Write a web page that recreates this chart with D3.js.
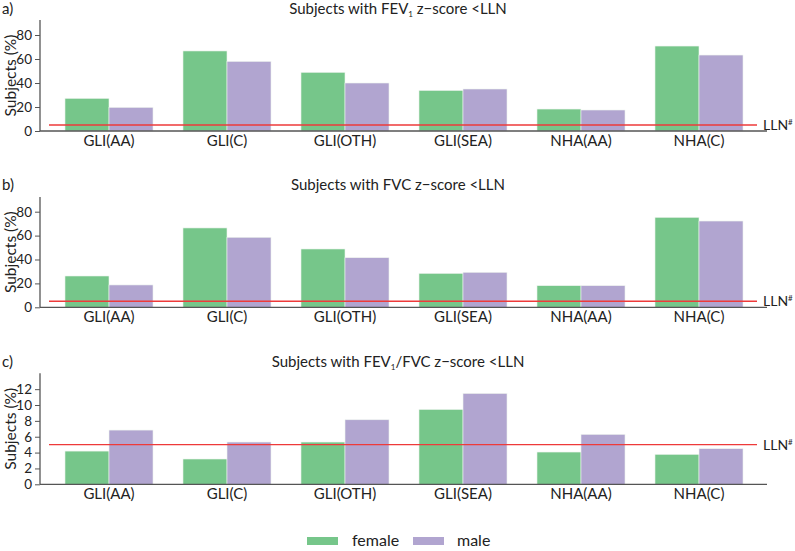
<!DOCTYPE html>
<html><head><meta charset="utf-8">
<script src="https://cdn.jsdelivr.net/npm/d3@7"></script>
<style>body{margin:0;background:#fff}svg{display:block}text{font-family:"Lato","Noto Sans",sans-serif;fill:#222}</style>
</head><body><svg id="c" width="795" height="551"></svg>
<script>
const categories = ["GLI(AA)","GLI(C)","GLI(OTH)","GLI(SEA)","NHA(AA)","NHA(C)"];
const seriesNames = ["female","male"];
const fev1Female = [27.2,66.7,48.9,33.8,18.3,70.8];
const fev1Male   = [19.7,58.0,40.0,35.0,17.5,63.3];
const fvcFemale  = [26.2,66.4,48.8,28.4,18.1,75.3];
const fvcMale    = [18.7,58.6,41.5,29.3,18.1,72.2];
const ratioFemale= [4.19,3.19,5.33,9.44,4.07,3.78];
const ratioMale  = [6.84,5.33,8.14,11.46,6.30,4.49];
const ticksAB = [0,20,40,60,80];
const ticksC = [0,2,4,6,8,10,12];
const llnValue = 5;
const colors = {female:"#76c68a", male:"#b1a5d0"};

const svg = d3.select("#c");
const panels = [
  {label:"a)", title:["Subjects with FEV","1"," z\u2212score <LLN"], f:fev1Female, m:fev1Male, max:92.5, ticks:ticksAB, top:20, base:131, titleY:14},
  {label:"b)", title:["Subjects with FVC z\u2212score <LLN"], f:fvcFemale, m:fvcMale, max:92.3, ticks:ticksAB, top:197, base:307.3, titleY:190},
  {label:"c)", title:["Subjects with FEV","1","/FVC z\u2212score <LLN"], f:ratioFemale, m:ratioMale, max:14, ticks:ticksC, top:373.3, base:484.3, titleY:367}
];
const x = d3.scaleBand().domain(categories).range([50,758]).paddingInner(0.254).paddingOuter(0.127);
const xs = d3.scaleBand().domain(seriesNames).range([0,x.bandwidth()]);

panels.forEach(p=>{
  const g = svg.append("g");
  const y = d3.scaleLinear().domain([0,p.max]).range([p.base,p.top]);
  const t = g.append("text").attr("x",398).attr("y",p.titleY).attr("text-anchor","middle").style("font-size","15px");
  if(p.title.length===1){ t.text(p.title[0]); }
  else {
    t.append("tspan").text(p.title[0]);
    t.append("tspan").text(p.title[1]).attr("dy",3).style("font-size","8px");
    t.append("tspan").text(p.title[2]).attr("dy",-3);
  }
  g.append("text").attr("x",2).attr("y",p.titleY).style("font-size","15px").text(p.label);
  const data = categories.map((c,i)=>({c, vals:[{s:"female",v:p.f[i]},{s:"male",v:p.m[i]}]}));
  const grp = g.selectAll(".grp").data(data).join("g").attr("transform",d=>`translate(${x(d.c)},0)`);
  grp.selectAll("rect").data(d=>d.vals).join("rect")
    .attr("x",d=>xs(d.s)).attr("width",xs.bandwidth())
    .attr("y",d=>y(d.v)).attr("height",d=>y(0)-y(d.v))
    .attr("fill",d=>colors[d.s]).attr("stroke","#eef4ee").attr("stroke-width",0.6);
  g.append("line").attr("x1",49).attr("x2",757).attr("y1",y(llnValue)).attr("y2",y(llnValue))
    .attr("stroke","#ee3a3a").attr("stroke-width",1.4);
  const lt = g.append("text").attr("x",763).attr("y",y(llnValue)+5).style("font-size","14px");
  lt.append("tspan").text("LLN");
  lt.append("tspan").text("#").attr("dy",-5).style("font-size","8px");
  const ya = g.append("g").attr("transform","translate(40,0)")
    .call(d3.axisLeft(y).tickValues(p.ticks).tickSize(5).tickPadding(3));
  ya.select(".domain").attr("d",`M0,${p.top}V${p.base}`).attr("stroke","#555").attr("stroke-width",1.3);
  ya.selectAll(".tick line").attr("stroke","#555");
  ya.selectAll(".tick text").style("font-size","13.5px").style("font-family","Lato,'Noto Sans',sans-serif").attr("fill","#222");
  g.append("line").attr("x1",40).attr("x2",767).attr("y1",p.base).attr("y2",p.base).attr("stroke","#555").attr("stroke-width",1.3);
  g.selectAll(".xl").data(categories).join("text")
    .attr("x",d=>x(d)+x.bandwidth()/2).attr("y",p.base+15).attr("text-anchor","middle")
    .style("font-size","15px").text(d=>d);
  g.append("text").attr("transform",`translate(15.5,${(p.top+p.base)/2}) rotate(-90)`)
    .attr("text-anchor","middle").style("font-size","15.5px").text("Subjects (%)");
});

const leg = svg.append("g");
const legItems = [{s:"female",x:307,tx:352},{s:"male",x:413,tx:457}];
seriesNames.forEach((s,i)=>{
  const it = legItems[i];
  leg.append("rect").attr("x",it.x).attr("y",537).attr("width",31).attr("height",8).attr("fill",colors[s]);
  leg.append("text").attr("x",it.tx).attr("y",546).style("font-size","16px").text(s);
});
</script></body></html>
